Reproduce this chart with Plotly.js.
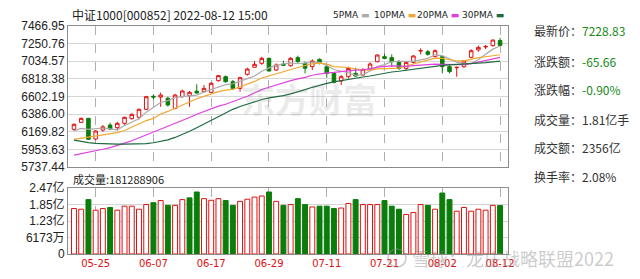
<!DOCTYPE html>
<html><head><meta charset="utf-8">
<script src="https://cdn.plot.ly/plotly-3.0.1.min.js"></script>
<style>html,body{margin:0;padding:0;background:#fff;}#chart{width:640px;height:279px;}</style>
</head><body><div id="chart"></div>
<script>
// ---------------- data ----------------
const dates = ['05-20','05-23','05-24','05-25','05-26','05-27','05-30','05-31','06-01','06-02',
  '06-06','06-07','06-08','06-09','06-10','06-13','06-14','06-15','06-16','06-17',
  '06-20','06-21','06-22','06-23','06-24','06-27','06-28','06-29','06-30','07-01',
  '07-04','07-05','07-06','07-07','07-08','07-11','07-12','07-13','07-14','07-15',
  '07-18','07-19','07-20','07-21','07-22','07-25','07-26','07-27','07-28','07-29',
  '08-01','08-02','08-03','08-04','08-05','08-08','08-09','08-10','08-11','08-12'];
const openP = [6199,6285,6334,6081,6190,6252,6220,6273,6330,6347,6445,6605,6595,6580,6457,6600,6612,6668,6661,6653,
  6796,6845,6784,6702,6874,6960,7009,7070,6927,7000,6980,7079,7009,6968,7058,6968,6886,6792,6845,6886,
  6866,6939,7029,7091,7079,7021,6947,7021,7160,7152,7091,7091,6968,6955,6968,7083,7173,7210,7226,7290];
const highP = [6273,6345,6340,6191,6252,6280,6290,6355,6395,6455,6610,6628,6650,6600,6632,6685,6670,6752,6743,6780,
  6865,6860,6805,6845,6955,7037,7090,7080,7009,7040,7087,7103,7029,7058,7070,6988,6898,6866,6968,6955,
  6947,7021,7119,7131,7119,7050,7037,7111,7193,7173,7181,7111,6988,6968,7050,7181,7226,7234,7300,7320];
const lowP = [6183,6278,6070,6064,6170,6190,6185,6255,6320,6322,6437,6567,6477,6478,6445,6590,6477,6638,6650,6645,
  6784,6770,6690,6661,6857,6960,6990,6910,6915,6975,6968,7009,6886,6927,6997,6833,6763,6743,6825,6845,
  6857,6927,7021,7058,6968,6927,6919,7009,7119,7103,7083,6886,6886,6845,6955,7070,7152,7185,7214,7226];
const closeP = [6261,6334,6077,6179,6230,6203,6273,6347,6383,6445,6600,6595,6620,6498,6620,6670,6653,6645,6702,6764,
  6858,6784,6702,6833,6939,6997,7070,6915,6989,6985,7070,7030,6948,7037,7017,6886,6776,6845,6947,6853,
  6935,7001,7111,7070,7029,6947,7021,7099,7165,7119,7164,6968,6907,6960,7037,7164,7205,7215,7294.49,7228.83];
const ma5 = [6180,6210,6200,6205,6216,6205,6192,6246,6287,6330,6410,6474,6529,6552,6587,6601,6614,6619,6657,6687,
  6722,6747,6759,6787,6821,6853,6912,6953,6984,7002,7014,7004,7012,7022,7020,6984,6933,6912,6894,6861,
  6871,6916,6969,6994,7029,7032,7036,7033,7052,7070,7114,7103,7065,7024,7007,7007,7055,7116,7183,7221];
const ma10 = [6077,6090,6100,6115,6130,6145,6160,6185,6225,6273,6307,6333,6388,6419,6458,6506,6544,6574,6604,6637,
  6662,6681,6689,6722,6754,6787,6829,6856,6886,6911,6933,6958,6982,7003,7011,6999,6968,6962,6958,6941,
  6927,6925,6941,6944,6945,6951,6976,7001,7023,7050,7073,7069,7049,7038,7039,7060,7079,7090,7103,7114];
const ma20 = [5884,5900,5915,5935,5955,5975,6000,6030,6060,6095,6130,6165,6200,6235,6270,6305,6345,6385,6420,6455,
  6484,6507,6538,6571,6606,6646,6687,6715,6745,6774,6797,6819,6836,6863,6882,6893,6899,6909,6922,6926,
  6930,6941,6962,6973,6978,6975,6972,6982,6991,6995,7000,6997,6995,6991,6992,7006,7027,7046,7063,7082];
const ma30 = [6068,6050,6036,6028,6022,6020,6019,6019,6019,6020,6025,6035,6050,6070,6100,6135,6175,6220,6265,6320,
  6365,6405,6445,6480,6510,6540,6565,6585,6598,6612,6634,6657,6686,6715,6741,6764,6781,6797,6816,6830,
  6841,6854,6871,6890,6903,6912,6924,6940,6956,6967,6978,6984,6991,6995,6998,7004,7008,7018,7028,7035];
const volume = [170000000,167500000,203500000,164000000,170000000,174000000,164000000,179000000,179000000,167500000,
  185000000,192000000,200000000,182000000,182000000,203500000,210000000,232000000,207000000,201000000,
  207000000,200000000,182000000,197000000,205000000,213000000,217000000,232000000,197000000,182000000,
  185000000,207000000,185000000,176000000,179000000,179000000,170000000,172000000,189000000,203500000,
  185000000,185000000,185000000,200000000,179000000,167500000,148000000,155000000,185000000,182000000,
  167500000,228000000,203500000,160000000,174000000,160000000,167500000,164000000,182000000,181288906];

const priceTicks = [5737.44,5953.63,6169.82,6386.00,6602.19,6818.38,7034.57,7250.76,7466.95];
const priceTickText = ['5737.44','5953.63','6169.82','6386.00','6602.19','6818.38','7034.57','7250.76','7466.95'];
const volTicks = [0,61730000,123460000,185190000,246920000];
const volTickText = ['0','6173万','1.23亿','1.85亿','2.47亿'];
const dateTicks = ['05-25','06-07','06-17','06-29','07-11','07-21','08-02','08-12'];

const titleText = '中证1000[000852] 2022-08-12 15:00';
const volLabel = '成交量:181288906';
const legendNames = ['5PMA','10PMA','20PMA','30PMA'];
const infoLabels = ['最新价','涨跌额','涨跌幅','成交量','成交额','换手率'];
const infoValues = ['7228.83','-65.66','-0.90%','1.81亿手','2356亿','2.08%'];
const watermark1 = '东方财富';
const watermark2 = '雪球：龙庄战略联盟2022';

// ---------------- style ----------------
const RED = '#e01010', GREEN = '#0a7d0a';
const maColors = ['#ababab','#f0a830','#e040e0','#1f6b3f'];
const L = 68, R = 508, T = 26, B = 254;
const px2x = p => (p - L) / (R - L);
const px2y = p => (B - p) / (B - T);
const CJK = 'Noto Sans CJK SC, Liberation Sans, sans-serif';
const NUM = 'Liberation Sans, Noto Sans CJK SC, sans-serif';

const volUp = closeP.map((c, i) => i === 0 ? true : c >= closeP[i - 1]);

const traces = [
  {type:'candlestick', x:dates, open:openP, high:highP, low:lowP, close:closeP,
   xaxis:'x', yaxis:'y', whiskerwidth:0,
   increasing:{line:{color:RED,width:1}, fillcolor:'#ffffff'},
   decreasing:{line:{color:GREEN,width:1}, fillcolor:GREEN},
   hoverinfo:'skip', showlegend:false},
  ...[ma5, ma10, ma20, ma30].map((m, k) => ({
    type:'scatter', mode:'lines', x:dates, y:m, xaxis:'x', yaxis:'y',
    line:{color:maColors[k], width:1.2}, hoverinfo:'skip', showlegend:false})),
  {type:'bar', x:dates, y:volume, xaxis:'x2', yaxis:'y2', width:0.68,
   marker:{color:volUp.map(u => u ? '#ffffff' : GREEN),
           line:{color:volUp.map(u => u ? RED : GREEN), width:1}},
   hoverinfo:'skip', showlegend:false}
];

const xCommon = {type:'category', range:[-0.83, 60.1], tickvals:dateTicks, showgrid:true,
  gridcolor:'#b0b0b0', griddash:'dash', gridwidth:1, showline:true, mirror:true,
  linecolor:'#8c8c8c', linewidth:1, ticks:'', zeroline:false, fixedrange:true};

const annotations = [];
annotations.push({xref:'paper', yref:'paper', x:px2x(70), y:px2y(14), xanchor:'left', yanchor:'middle',
  text:titleText, showarrow:false, font:{family:CJK, size:12, color:'#222'}});
const legX = [331, 372, 415, 460];
legendNames.forEach((n, k) => annotations.push({xref:'paper', yref:'paper', x:px2x(legX[k]), y:px2y(15),
  xanchor:'left', yanchor:'middle', showarrow:false,
  text:n + ' <span style="color:' + maColors[k] + '">▬</span>',
  font:{family:'DejaVu Sans, sans-serif', size:9, color:'#222'}}));
annotations.push({xref:'paper', yref:'paper', x:px2x(71), y:px2y(179), xanchor:'left', yanchor:'middle',
  text:volLabel, showarrow:false, font:{family:CJK, size:11, color:'#222'}});
const infoY = [31, 61, 89, 119, 147, 176];
infoLabels.forEach((lab, k) => annotations.push({xref:'paper', yref:'paper', x:px2x(532), y:px2y(infoY[k]),
  xanchor:'left', yanchor:'middle', showarrow:false,
  text:lab + '：<span style="color:' + (k < 3 ? '#1a8a1a' : '#333') + '">' + infoValues[k] + '</span>',
  font:{family:CJK, size:12, color:'#333'}}));
annotations.push({xref:'paper', yref:'paper', x:px2x(309), y:px2y(98), xanchor:'center', yanchor:'middle',
  text:watermark1, showarrow:false, font:{family:CJK, size:34, weight:700, color:'rgba(150,150,150,0.2)'}});
annotations.push({xref:'paper', yref:'paper', x:px2x(410), y:px2y(258), xanchor:'left', yanchor:'middle',
  text:watermark2, showarrow:false, font:{family:CJK, size:18, color:'rgba(140,140,140,0.45)'}});

const layout = {
  width:640, height:279, margin:{l:L, r:640 - R, t:T, b:279 - B, pad:0},
  paper_bgcolor:'#fff', plot_bgcolor:'#fff', showlegend:false,
  xaxis:Object.assign({}, xCommon, {anchor:'y', showticklabels:false, rangeslider:{visible:false}}),
  xaxis2:Object.assign({}, xCommon, {anchor:'y2', matches:'x', showticklabels:true,
    tickfont:{family:'DejaVu Sans, sans-serif', size:10, color:RED}}),
  yaxis:{domain:[px2y(167), 1], range:[5737.43, 7466.96], tickvals:priceTicks, ticktext:priceTickText,
    showgrid:true, gridcolor:'#d6d6d6', showline:true, mirror:true, linecolor:'#8c8c8c', ticks:'',
    zeroline:false, tickfont:{family:NUM, size:12, color:'#222'}, fixedrange:true},
  yaxis2:{domain:[0, px2y(188)], range:[0, 246930000], tickvals:volTicks, ticktext:volTickText,
    showgrid:true, gridcolor:'#d6d6d6', showline:true, mirror:true, linecolor:'#8c8c8c', ticks:'',
    zeroline:false, tickfont:{family:NUM, size:12, color:'#222'}, fixedrange:true},
  annotations:annotations,
  shapes:[{type:'circle', xref:'paper', yref:'paper', x0:px2x(388), x1:px2x(406), y0:px2y(267), y1:px2y(249),
    line:{color:'rgba(140,140,140,0.45)', width:1.5}}],
  bargap:0.3
};
Plotly.newPlot('chart', traces, layout, {staticPlot:true, displayModeBar:false});
</script></body></html>
